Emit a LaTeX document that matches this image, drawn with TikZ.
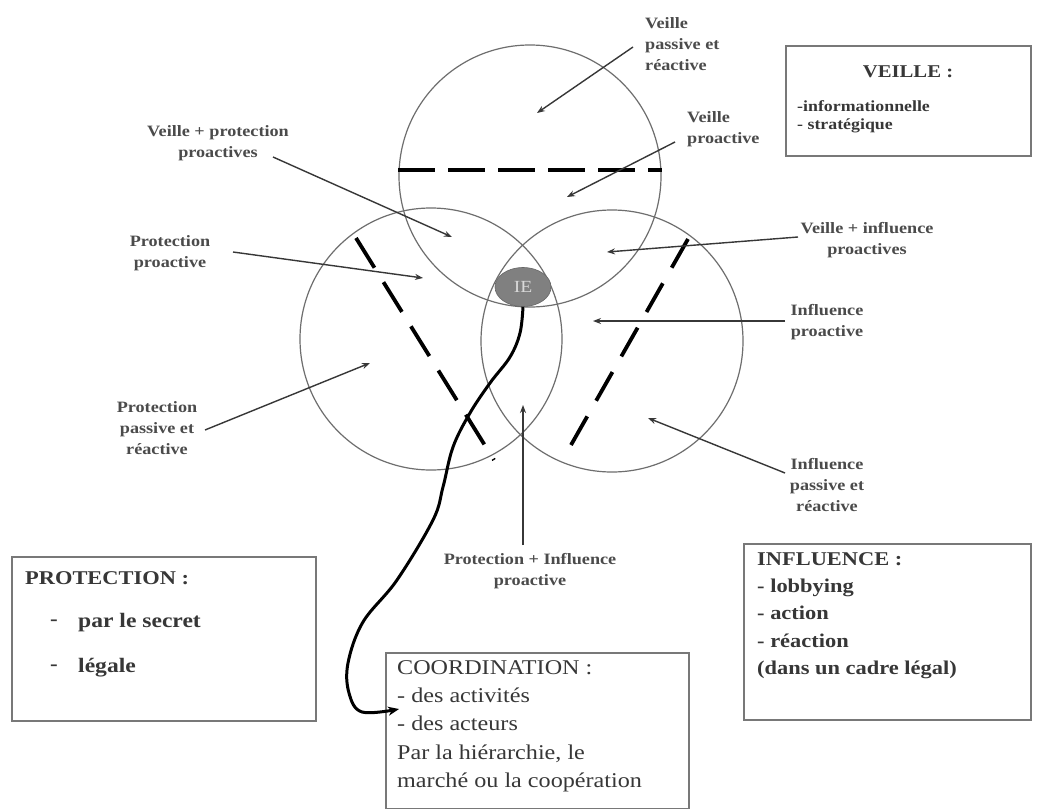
\documentclass[tikz,border=0pt]{standalone}
\usepackage{fontspec}
\setmainfont[FakeStretch=1.15]{Liberation Serif}
\usetikzlibrary{arrows.meta,shapes.geometric}
\definecolor{ring}{RGB}{110,110,110}
\definecolor{ink}{RGB}{55,55,55}
\definecolor{lbl}{RGB}{75,75,75}
\definecolor{frame}{RGB}{120,120,120}
\definecolor{iefill}{RGB}{128,128,128}
\tikzset{
  zone/.style={circle, draw=ring, line width=1.2pt, minimum size=262pt, inner sep=0pt},
  split/.style={line width=3.8pt},
  pointer/.style={draw=ink, line width=1.4pt, -{Stealth[length=8pt,width=6pt]}},
  tag/.style={text=lbl, font=\fontsize{15.8}{21}\selectfont\bfseries, align=center, inner sep=0pt},
  frame/.style={draw=frame, line width=1.6pt, inner sep=0pt},
  boxtext/.style={text=ink, align=left, inner sep=0pt, anchor=west},
}
\begin{document}
\begin{tikzpicture}[x=1pt, y=-1pt]
\useasboundingbox (0,0) rectangle (1038,808);
\fill[white] (0,0) rectangle (1038,808);

% the three overlapping domains
\node[zone] (veille) at (530,176) {};
\node[zone] (prot) at (431,339) {};
\node[zone] (infl) at (612,341) {};

% boundaries between proactive and passive parts
\coordinate (sv1) at (398,170);
\coordinate (sv2) at (662,170);
\coordinate (sp1) at (356,238);
\coordinate (sp2) at (494,460);
\coordinate (si1) at (688,239);
\coordinate (si2) at (571,445);
\draw[split, dash pattern=on 37pt off 13pt] (sv1) -- (sv2);
\draw[split, dash pattern=on 35pt off 17pt] (sp1) -- (sp2);
\draw[split, dash pattern=on 33pt off 18pt] (si1) -- (si2);

% central core
\node[ellipse, fill=iefill, draw=iefill!80!black, line width=0.6pt, minimum width=56pt, minimum height=39pt, inner sep=0pt,
      text=white!85!black, font=\fontsize{17}{17}\selectfont] (ie) at (523,287) {IE};

% zone labels
\node[tag, anchor=west, align=left] (vpr) at (645,44) {Veille\\passive et\\réactive};
\node[tag, anchor=west, align=left] (vpro) at (687,129) {Veille\\proactive};
\node[tag] (vprot) at (218,143) {Veille + protection\\proactives};
\node[tag] (ppro) at (170,253) {Protection\\proactive};
\node[tag] (ppr) at (157,428) {Protection\\passive et\\réactive};
\node[tag] (vinf) at (867,240) {Veille + influence\\proactives};
\node[tag] (ipro) at (827,322) {Influence\\proactive};
\node[tag] (ipr) at (827,485) {Influence\\passive et\\réactive};
\node[tag] (pinf) at (530,571) {Protection + Influence\\proactive};

% arrow ends
\coordinate (a1s) at (633,47);   \coordinate (a1e) at (537,113);
\coordinate (a2s) at (675,142);  \coordinate (a2e) at (567,197);
\coordinate (a3s) at (273,157);  \coordinate (a3e) at (452,237);
\coordinate (a4s) at (233,252);  \coordinate (a4e) at (423,278);
\coordinate (a5s) at (205,430);  \coordinate (a5e) at (370,363);
\coordinate (a6s) at (798,237);  \coordinate (a6e) at (607,252);
\coordinate (a7s) at (785,321);  \coordinate (a7e) at (593,321);
\coordinate (a8s) at (785,473);  \coordinate (a8e) at (648,418);
\coordinate (a9s) at (523,545);  \coordinate (a9e) at (523,405);

\draw[pointer] (a1s) -- (a1e);
\draw[pointer] (a2s) -- (a2e);
\draw[pointer] (a3s) -- (a3e);
\draw[pointer] (a4s) -- (a4e);
\draw[pointer] (a5s) -- (a5e);
\draw[pointer] (a6s) -- (a6e);
\draw[pointer] (a7s) -- (a7e);
\draw[pointer] (a8s) -- (a8e);
\draw[pointer] (a9s) -- (a9e);

% VEILLE box
\node[frame, minimum width=245pt, minimum height=110pt, anchor=north west] (bveille) at (785,45) {};
\node[text=ink, font=\fontsize{18}{18}\selectfont\bfseries, inner sep=0pt] (tveille) at (908,72) {VEILLE :};
\node[boxtext, font=\fontsize{15.5}{18.5}\selectfont\bfseries, anchor=north west] (lveille) at (797,100) {-informationnelle\\- stratégique};

% PROTECTION box
\node[frame, minimum width=304pt, minimum height=164pt, anchor=north west] (bprot) at (11,556) {};
\node[boxtext, font=\fontsize{19.5}{19.5}\selectfont\bfseries] (tprot) at (25,578) {PROTECTION :};
\node[boxtext, font=\fontsize{20}{20}\selectfont\bfseries] (dprot1) at (50,623) {-};
\node[boxtext, font=\fontsize{20.5}{20}\selectfont\bfseries] (lprot1) at (78,623) {par le secret};
\node[boxtext, font=\fontsize{20}{20}\selectfont\bfseries] (dprot2) at (50,668) {-};
\node[boxtext, font=\fontsize{20.5}{20}\selectfont\bfseries] (lprot2) at (78,668) {légale};

% INFLUENCE box
\node[frame, minimum width=287pt, minimum height=176pt, anchor=north west] (binfl) at (743,543) {};
\node[boxtext, font=\fontsize{19.5}{27.3}\selectfont\bfseries, anchor=north west] (linfl) at (757,552)
  {INFLUENCE :\\- lobbying\\- action\\- réaction\\(dans un cadre légal)};

% COORDINATION box
\node[frame, minimum width=303pt, minimum height=156pt, anchor=north west] (bcoord) at (385,652) {};
\node[boxtext, font=\fontsize{21}{28.3}\selectfont, anchor=north west] (lcoord) at (397,660)
  {COORDINATION :\\- des activités\\- des acteurs\\Par la hiérarchie, le\\marché ou la coopération};

% link from the core to coordination
\coordinate (ctip) at (399,709);
\draw[line width=3pt, -{Stealth[length=11pt,width=9pt]}]
  plot[smooth, tension=0.6] coordinates {(ie.south) (520,333) (510,357) (490,383) (470,413) (453,447) (443,487) (433,520) (397,580) (363,622) (348,663) (349,693) (362,712) (ctip)};
\end{tikzpicture}
\end{document}
